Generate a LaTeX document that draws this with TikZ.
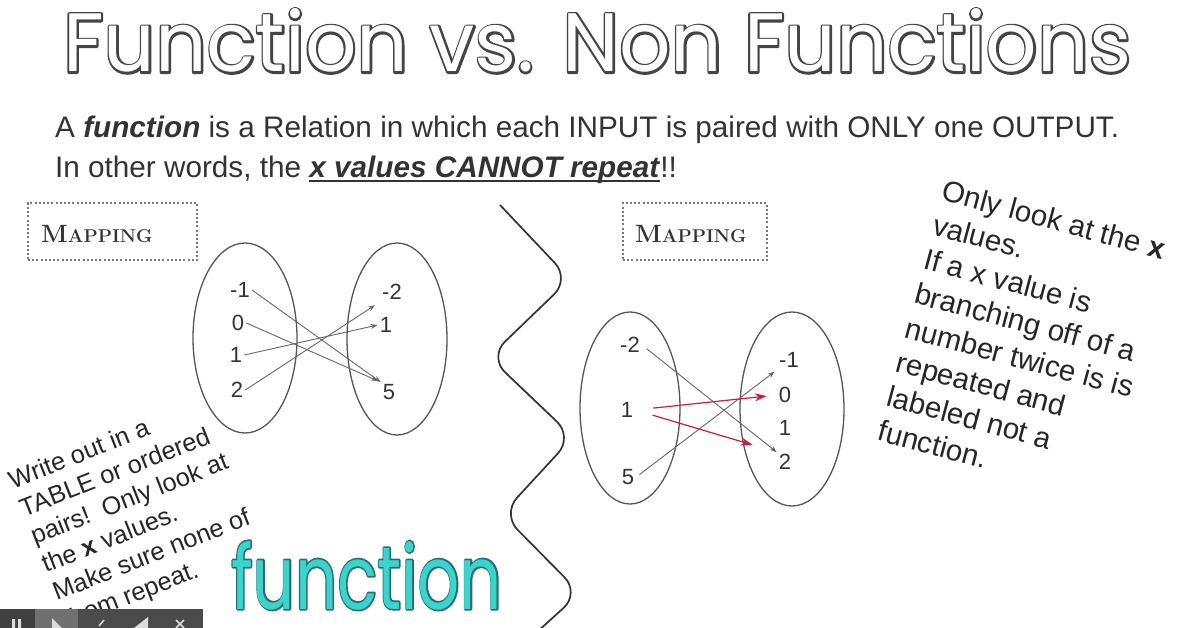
\documentclass[tikz,border=0pt]{standalone}
\usepackage{fontspec}
\setsansfont{Liberation Sans}
\newfontfamily\titlefont{Poppins}
\usetikzlibrary{arrows.meta,shapes.geometric}
\definecolor{ink}{HTML}{333333}
\definecolor{titlegray}{HTML}{444444}
\definecolor{ovalgray}{HTML}{555555}
\definecolor{arrowgray}{HTML}{666666}
\definecolor{redarrow}{HTML}{C8203A}
\definecolor{tealfill}{HTML}{3AD4CF}
\definecolor{tealline}{HTML}{2E6B6C}
\definecolor{boxgray}{HTML}{777777}
\definecolor{bardark}{HTML}{4B4B4B}
\definecolor{barlight}{HTML}{707070}
\definecolor{iconcol}{HTML}{DDDDDD}
\newcommand\outlinetext[2]{\special{pdf:literal direct #1 w 1 Tr 1 j}#2\special{pdf:literal direct 0 Tr}}
% ring outline: stroke wide in colour #2, then fill with colour #3
\newcommand\ringtext[4]{\rlap{\color{#2}\outlinetext{#1}{#4}}{\color{#3}#4}}
\newcommand\myul[1]{{\setbox0\hbox{#1}\rlap{\rule[-4pt]{\wd0}{1.8pt}}\box0}}
\newcommand\mapword{{\fontsize{25}{25}\selectfont M}{\fontsize{18.5}{18.5}\selectfont APPING}}
\begin{document}
\begin{tikzpicture}[x=1pt,y=-1pt,
  every node/.style={font=\sffamily, text=ink},
  sub/.style={font=\sffamily\fontsize{29.7}{35}\selectfont, text=ink, inner sep=0pt},
  noteR/.style={font=\sffamily\fontsize{29.5}{35.5}\selectfont, text=black!85, align=left, inner sep=0pt},
  noteL/.style={font=\sffamily\fontsize{25.3}{30}\selectfont, text=black!85, align=left, inner sep=0pt},
  num/.style={font=\sffamily\fontsize{22}{22}\selectfont, text=ink, inner sep=2pt},
  oval/.style={draw=ovalgray, line width=1.3pt, ellipse, inner sep=0pt},
  mapbox/.style={draw=boxgray, line width=1.6pt, dash pattern=on 2pt off 2.2pt, inner sep=0pt, minimum height=57pt},
  gar/.style={draw=arrowgray, line width=0.9pt, -{Stealth[length=7pt,width=5pt]}},
  rar/.style={draw=redarrow, line width=1.2pt, -{Stealth[length=12pt,width=8pt]}, shorten <=18pt}
]
\useasboundingbox (0,0) rectangle (1196,628);
\fill[white] (0,0) rectangle (1196,628);

% title
\node[anchor=base west, inner sep=0pt] (title) at (63,72)
  {\resizebox{1068pt}{63pt}{\titlefont\fontsize{90}{90}\selectfont\ringtext{4.6}{titlegray}{white}{Function vs. Non Functions}}};

% definition
\node[sub, anchor=base west] (s1) at (55,138)
  {A \textbf{\textit{function}} is a Relation in which each INPUT is paired with ONLY one OUTPUT.};
\node[sub, anchor=base west] (s2) at (55,178)
  {In other words, the \myul{\textbf{\textit{x values CANNOT repeat}}}!!};

% mapping boxes
\node[mapbox, minimum width=169pt] (m1) at (112.5,231.5) {};
\node[anchor=base west, inner sep=0pt, font=\rmfamily\bfseries, text=ink] (m1t) at (41,243) {\mapword};
\node[mapbox, minimum width=144pt] (m2) at (695,231.5) {};
\node[anchor=base west, inner sep=0pt, font=\rmfamily\bfseries, text=ink] (m2t) at (635,243) {\mapword};

% left mapping (function)
\node[oval, minimum width=104pt, minimum height=190pt] (LA) at (245,338) {};
\node[oval, minimum width=100pt, minimum height=192pt] (LB) at (397,339) {};
\node[num] (a1) at (240,290) {-1};
\node[num] (a0) at (238,323) {0};
\node[num] (aP) at (236,355) {1};
\node[num] (a2) at (237,390) {2};
\node[num] (bm2) at (392,292) {-2};
\node[num] (bP) at (386,325) {1};
\node[num] (b5) at (389,392) {5};
\draw[gar] (a1.east) -- (b5.north west);
\draw[gar, shorten >=3pt] (a0.east) -- (b5.north west);
\draw[gar] (aP.east) -- (bP.west);
\draw[gar, shorten >=6pt] (a2.east) -- (bm2.south west);

% right mapping (not a function)
\node[oval, minimum width=100pt, minimum height=192pt] (RA) at (630,408) {};
\node[oval, minimum width=104pt, minimum height=194pt] (RB) at (792,409) {};
\node[num] (cm2) at (630,345) {-2};
\node[num] (c1) at (627,410) {1};
\node[num] (c5) at (628,477) {5};
\node[num] (dm1) at (789,360) {-1};
\node[num] (d0) at (785,395) {0};
\node[num] (d1) at (785,428) {1};
\node[num] (d2) at (785,462) {2};
\draw[gar, shorten <=6pt] (cm2.east) -- (d2.north west);
\draw[gar, shorten <=4pt, shorten >=3pt] (c5.east) -- (dm1.south west);
\draw[rar, shorten >=10pt] (c1.east) -- (d0.west);
\draw[rar, shorten >=25pt] (c1.east) -- (d2.north west);

% wavy divider
\draw[line width=1.7pt, black!80, rounded corners=22pt]
  (500,205) -- (570,279) -- (489,357) -- (573,437) -- (502,514) -- (580,593) -- (537,632);

% notes
\node[noteR, rotate=-15, anchor=north west] (rt) at (946,179)
  {Only look at the \textbf{x}\\values.\\If a x value is\\branching off of a\\number twice is is\\repeated and\\labeled not a\\function.};
\node[noteL, rotate=21.5, anchor=north west] (lt) at (6,472)
  {Write out in a\\TABLE or ordered\\pairs!\ \ Only look at\\the \textbf{x} values.\\Make sure none of\\them repeat.};

% big teal word
\node[anchor=base west, inner sep=0pt] (fn) at (231,609)
  {\resizebox{271pt}{68pt}{\titlefont\fontsize{95}{95}\selectfont\ringtext{3.6}{tealline}{tealfill}{function}}};

% player toolbar
\fill[bardark] (0,609) rectangle (203,628);
\fill[black!75] (0,609) rectangle (35,628);
\fill[barlight] (35,609) rectangle (78,628);
\fill[iconcol] (12,619) rectangle (15,628) (18,619) rectangle (21,628);
\fill[iconcol] (52,618) -- (62,628) -- (52,628) -- cycle;
\draw[iconcol, line width=1.5pt] (104,620) -- (99,626);
\fill[iconcol] (148,617) -- (148,628) -- (134,628) -- cycle;
\draw[iconcol, line width=1.5pt] (176,620) -- (184,628) (184,620) -- (176,628);
\end{tikzpicture}
\end{document}
